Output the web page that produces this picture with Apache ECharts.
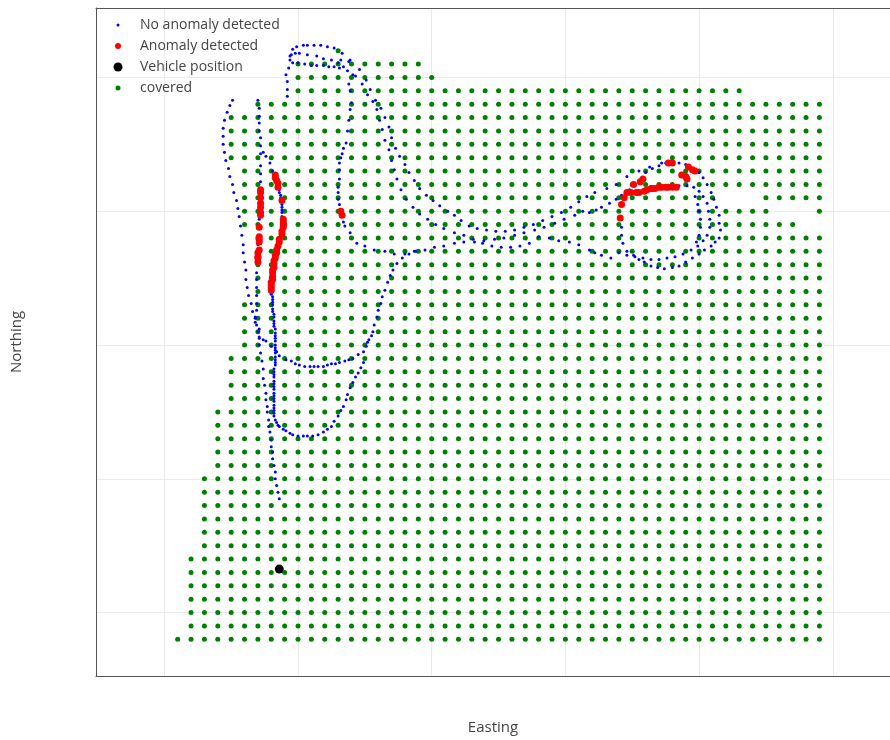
<!DOCTYPE html>
<html><head><meta charset="utf-8">
<script src="https://cdn.jsdelivr.net/npm/echarts@6/dist/echarts.min.js"></script>
<style>html,body{margin:0;padding:0;background:#fff}#c{width:890px;height:740px}</style>
</head><body><div id="c"></div>
<script>
// Covered grid cells: [northing row, first easting, last easting]
const covRows = [
  [42,13,13],[41,10,19],[40,10,20],[39,10,43],[38,7,49],
  [37,5,49],[36,5,49],[35,5,49],[34,5,49],
  [33,6,49],[32,6,49],[31,6,49],[30,6,45],[30,49,49],[29,6,47],
  [28,7,49],[27,7,49],[26,7,49],[25,7,49],[24,7,49],
  [23,6,49],[22,6,49],[21,6,49],[20,6,49],
  [19,5,49],[18,5,49],[17,5,49],[16,5,49],
  [15,4,49],[14,4,49],[13,4,49],[12,4,49],[11,4,49],
  [10,3,49],[9,3,49],[8,3,49],[7,3,49],[6,3,49],[5,3,49],
  [4,2,49],[3,2,49],[2,2,49],[1,2,49],[0,2,49],[-1,2,49],
  [-2,1,49]
];
const covMissing = [[31,42],[31,43],[31,44]];

// No anomaly detected — trajectory strands
const blueA1 = [[5.1,38.3],[4.9,37.9],[4.7,37.4],[4.5,36.8],[4.4,36.2],[4.4,35.6],[4.4,35.0],[4.5,34.4],[4.6,33.8],[4.8,33.2],[4.9,32.6],[5.1,32.0],[5.2,31.4],[5.4,30.8],[5.5,30.2],[5.6,29.6],[5.7,28.9],[5.8,28.2],[5.9,27.5],[5.9,26.9],[6.0,26.2],[6.1,25.6],[6.1,24.9],[6.2,24.3],[6.3,23.7],[6.5,23.1],[6.6,22.5],[6.8,22.0],[6.9,21.5],[7.0,21.0],[7.1,20.5],[7.1,20.0],[7.2,19.4],[7.3,18.8],[7.4,18.2],[7.4,17.5],[7.5,17.0],[7.6,16.4],[7.6,15.9],[7.7,15.4],[7.7,15.0],[7.8,14.4],[7.8,13.9],[7.9,13.5],[8.0,12.9],[8.0,12.4],[8.1,12.0],[8.1,11.5],[8.2,11.0],[8.3,10.5],[8.3,10.0],[8.4,9.5],[8.5,9.0],[8.6,8.5]];
const blueA2 = [[7.0,38.3],[7.1,37.7],[7.1,37.1],[7.1,36.6],[7.1,36.0],[7.2,35.5],[7.2,34.9],[7.2,34.3],[7.2,33.4],[7.2,32.8],[7.2,32.2],[7.2,31.2],[7.1,29.4],[7.0,27.5],[6.9,25.4],[6.9,24.9],[6.9,24.3],[6.9,23.7],[6.9,23.1],[6.9,22.6],[6.8,22.1],[6.8,21.7],[7.1,21.2],[7.1,20.6],[7.4,20.4],[7.6,20.3],[8.0,19.9],[8.4,19.5],[8.6,19.2],[9.1,18.9],[9.5,18.8],[9.8,18.6],[10.1,18.5],[10.5,18.4],[10.9,18.4],[11.2,18.4],[11.5,18.4],[11.9,18.4],[12.2,18.5],[12.5,18.6],[12.8,18.6],[13.1,18.7],[13.5,18.8],[13.8,18.9],[14.1,19.0],[14.5,19.3],[14.9,19.5],[15.1,19.9],[15.2,20.2],[15.3,20.4],[15.5,20.7],[15.6,21.0],[15.7,21.5],[15.9,22.1],[16.0,22.6],[16.2,23.1],[16.3,23.6],[16.5,24.1],[16.7,24.7],[16.9,25.2],[17.1,25.6],[17.4,26.1],[17.8,26.5],[18.3,26.8],[18.8,27.0]];
const blueB = [[7.4,34.4],[7.6,34.1],[7.9,33.6],[8.1,33.0],[8.2,32.7],[8.3,32.5],[8.4,32.3],[8.4,32.1],[8.5,31.8],[8.6,31.6],[8.6,31.4],[8.7,31.2],[8.7,31.0],[8.7,30.8],[8.8,30.5],[8.8,30.3],[8.8,30.1],[8.8,29.9],[8.8,29.6],[8.8,29.4],[8.9,29.2],[8.8,28.9],[8.8,28.7],[8.8,28.5],[8.7,28.3],[8.7,28.1],[8.6,27.8],[8.5,27.6],[8.5,27.4],[8.4,27.2],[8.4,27.0],[8.3,26.8],[8.3,26.6],[8.2,26.3],[8.2,26.1],[8.2,25.9],[8.1,25.7],[8.1,25.5],[8.1,25.3],[8.0,25.1],[8.0,24.9],[8.0,24.7],[8.0,24.4],[8.0,24.2],[8.0,24.0],[8.0,23.8],[8.1,23.6],[8.1,23.4],
  [8.1,23.2],[8.1,23.0],[8.1,22.7],[8.1,22.5],[8.2,22.3],[8.2,22.1],[8.2,21.8],[8.2,21.6],[8.2,21.4],[8.3,21.2],[8.3,20.9],[8.3,20.7],[8.3,20.5],[8.3,20.3],[8.3,20.0],[8.3,19.8],[8.3,19.6],[8.3,19.4],[8.3,19.1],[8.3,18.9],[8.3,18.7],[8.3,18.5],[8.2,18.2],[8.2,18.0],[8.2,17.8],[8.2,17.6],[8.2,17.3],[8.2,17.1],[8.2,16.9],[8.2,16.7],[8.2,16.4],[8.2,16.2],[8.2,16.0],[8.2,15.8],[8.2,15.5],[8.2,15.3],[8.2,15.1],[8.2,14.9],
  [8.2,14.7],[8.3,14.4],[8.4,14.2],[8.5,14.0],[8.6,13.9],[8.9,13.7],[9.1,13.6],[9.4,13.4],[9.6,13.3],[10.0,13.2],[10.4,13.2],[10.7,13.2],[11.1,13.2],[11.5,13.3],[11.9,13.5],[12.2,13.7],[12.5,13.9],[12.7,14.3],[13.0,14.7],[13.2,15.1],[13.4,15.4],[13.6,15.9],[13.7,16.3],[13.9,16.8],[14.1,17.2],[14.3,17.6],[14.5,17.9],[14.7,18.3],[14.9,18.7]];
const blueD = [[13.2,41.3],[13.8,41.2],[13.7,40.5],[14.1,40.2],[13.8,39.5],[13.9,39.0],[14.0,38.1],[13.9,37.6],[13.8,36.8],[13.7,36.0],[13.6,35.1],[13.4,34.7],[13.3,34.3],[13.2,34.0],[13.1,33.6],[13.1,33.1],[13.1,32.4],[13.0,31.8],[13.0,31.4],[13.0,30.9],[13.1,30.5],[13.4,29.2],[13.5,28.9],[13.9,28.4],[14.4,27.6],[15.0,27.4],[15.7,27.1],[16.5,27.0],[17.2,26.8],[18.0,26.8],[18.7,27.0],[19.5,27.1],[20.2,27.3],[20.9,27.4],[21.7,27.6],[22.4,27.7],[23.2,27.7],[23.9,27.8],[24.7,27.9],[25.4,28.0],[26.2,28.2],[26.9,28.4],[27.7,28.6],[28.4,28.8],[29.2,29.1],[29.9,29.4],[30.7,29.7],[31.3,30.0]];
const blueC1 = [[14.6,40.6],[15.1,39.8],[15.4,39.1],[15.8,38.3],[16.2,37.7],[16.5,37.0],[16.8,36.3],[17.0,35.5],[17.3,34.7],[17.6,34.1],[18.0,33.5],[18.3,32.9],[18.7,32.3],[19.1,31.7],[19.6,31.2],[20.1,30.8],[20.6,30.4],[21.2,30.0],[21.7,29.7],[22.2,29.3],[22.8,28.9],[23.4,28.7],[24.1,28.6],[24.8,28.5],[25.5,28.5],[26.2,28.6],[26.9,28.8],[27.6,29.0],[28.3,29.3],[29.0,29.6],[29.7,29.9],[30.4,30.3],[31.0,30.7],[31.6,31.1],[32.2,31.4],[33.1,31.7],[33.8,32.0],[34.6,32.6],[35.5,33.0],[36.3,33.3],[37.2,33.6]];
const blueC2 = [[14.8,39.5],[15.2,38.7],[15.6,38.2],[15.9,37.6],[16.1,36.8],[16.3,36.1],[16.5,35.3],[16.8,34.6],[17.0,33.8],[17.2,33.1],[17.4,32.4],[17.7,31.6],[18.1,30.9],[18.6,30.3],[19.1,29.8],[19.7,29.4],[20.3,29.0],[20.9,28.7],[21.7,28.4],[22.4,28.2],[23.1,27.9],[23.8,27.6],[24.5,27.4],[25.2,27.3],[25.9,27.3],[26.6,27.4],[27.3,27.6]];
const blueT1 = [[9.2,38.6],[9.2,39.1],[9.2,39.7],[9.1,40.2],[9.3,40.7],[9.4,41.3],[9.5,41.7],[9.6,42.1],[9.9,42.3],[10.4,42.4],[10.7,42.4],[11.2,42.4],[11.7,42.4],[12.2,42.3],[12.7,42.2],[13.3,41.8],[13.9,41.3]];
const blueT2 = [[9.4,41.6],[9.8,41.8],[10.1,41.8],[10.7,41.7],[11.4,41.6],[11.9,41.4],[12.5,41.3],[13.0,41.1],[13.4,40.8],[14.3,40.1]];
const blueT3 = [[9.6,41.1],[10.0,41.1],[10.5,41.0],[11.0,40.9],[11.4,40.9],[11.9,40.9],[12.3,40.8],[12.7,40.8],[13.1,40.7]];
const blueR1 = [[31.8,29.9],[32.3,30.1],[32.7,30.3],[33.3,30.6],[33.8,30.9],[34.2,31.2],[34.8,31.6],[35.1,32.0],[35.5,32.2],[36.0,32.9],[36.5,33.2],[37.0,33.4],[37.5,33.6],[38.0,33.7],[38.5,33.6],[39.0,33.5],[39.5,33.2],[40.0,32.9],[40.3,32.5],[40.6,32.0],[40.9,31.4],[41.1,30.9],[41.3,30.3],[41.5,29.7],[41.5,29.1],[41.6,28.6],[41.5,28.0],[41.2,27.7],[40.9,27.4],[40.4,27.1],[40.0,26.8],[39.5,26.5],[39.0,26.2],[38.5,25.9],[38.0,25.8],[37.4,25.7],[36.9,25.8],[36.4,25.9],[35.9,26.2],[35.5,26.4],[35.1,26.7],[34.6,27.0],[34.3,27.6],[34.2,28.2],[34.2,28.8],[34.2,29.4]];
const blueR2 = [[38.5,31.9],[39.1,31.9],[39.6,31.8],[40.0,31.5],[40.3,31.1],[40.6,30.6],[40.7,30.0],[40.8,29.4],[40.8,28.8],[40.6,28.2],[40.3,27.8],[39.9,27.4],[39.4,27.1],[38.8,26.8],[38.2,26.6],[37.6,26.5],[37.0,26.4],[36.4,26.4],[35.8,26.5],[35.2,26.6],[34.6,26.7],[34.0,26.9]];
const blueR3 = [[39.7,31.1],[39.9,30.5],[40.0,30.0],[40.1,29.4],[40.1,28.8],[40.0,28.2],[39.8,27.7]];
const blueM3 = [[33.4,26.5],[32.7,26.7],[32.2,26.9],[31.8,27.1],[31.0,27.5],[30.3,27.7],[29.5,27.8],[28.8,28.0],[28.0,28.1]];

// Anomaly detected
const redLeft = [[7.2,31.6],[7.2,31.4],[7.2,31.0],[7.2,30.6],[7.2,30.3],[7.2,29.9],[7.2,29.7],[7.1,28.8],[7.1,28.1],[7.1,27.9],[7.1,27.7],[7.1,27.1],[7.0,26.9],[7.0,26.6],[7.0,26.5],[7.0,26.2]];
const redTrack = [[8.3,32.7],[8.3,32.5],[8.4,32.3],[8.5,32.1],[8.5,31.8],[8.8,30.8],[8.9,29.4],[8.9,29.2],[8.9,29.0],[8.9,28.8],[8.8,28.5],[8.8,28.3],[8.6,27.9],[8.6,27.7],[8.5,27.4],[8.4,27.1],[8.4,26.9],[8.3,26.7],[8.3,26.5],[8.2,26.3],[8.2,26.1],[8.2,25.8],[8.1,25.6],[8.1,25.4],[8.1,25.1],[8.1,24.9],[8.0,24.7],[8.0,24.5],[8.0,24.3],[8.0,24.1]];
const redMid = [[13.2,30.0],[13.3,29.7]];
const redRight = [[34.1,29.5],[34.2,30.5],[34.4,31.0],[34.6,31.4],[34.9,31.4],[35.1,32.0],[35.3,31.4],[35.5,31.4],[35.6,32.2],[35.8,32.4],[35.9,31.5],[36.1,31.6],[36.4,31.7],[36.5,31.7],[36.7,31.7],[37.0,31.8],[37.2,31.8],[37.5,31.8],[37.7,31.8],[38.0,31.8],[38.3,31.8],[37.7,33.6],[38.0,33.6],[38.7,32.7],[39.0,32.6],[39.1,32.4],[39.2,33.3],[39.5,33.1],[39.7,33.0]];

// Vehicle position
const vehicle = [[8.6,3.25]];

const names = ['No anomaly detected','Anomaly detected','Vehicle position','covered'];

const covered = [];
covRows.forEach(([n,a,b]) => {
  for (let e = a; e <= b; e++) {
    if (!covMissing.some(m => m[0] === n && m[1] === e)) covered.push([e, n]);
  }
});
const blue = [].concat(blueA1, blueA2, blueB, blueD, blueC1, blueC2, blueT1, blueT2, blueT3, blueR1, blueR2, blueR3, blueM3);
const red = [].concat(redLeft, redTrack, redMid, redRight);

const font = "'Open Sans', sans-serif";
function legendFor(name, yc, w) {
  return {
    data: [name], orient: 'vertical', left: 118 - w / 2, top: yc - 6, padding: 0,
    itemWidth: w, itemHeight: w, icon: 'circle', selectedMode: false,
    textStyle: { color: '#444', fontSize: 14, fontFamily: font, padding: [0, 0, 0, 17 - w / 2] }
  };
}

const X_MIN = -5.11, X_MAX = 54.28;
const borderLine = { show: true, onZero: false, lineStyle: { color: '#555', width: 1 } };

const chart = echarts.init(document.getElementById('c'), null, { renderer: 'canvas' });
chart.setOption({
  animation: false,
  backgroundColor: '#fff',
  grid: { left: 96, top: 8, right: 0, bottom: 63, show: false },
  legend: [legendFor(names[0], 24, 3), legendFor(names[1], 45, 6), legendFor(names[2], 66, 9), legendFor(names[3], 87, 5)],
  xAxis: [{
    type: 'value', min: X_MIN, max: X_MAX,
    name: 'Easting', nameLocation: 'middle', nameGap: 44,
    nameTextStyle: { color: '#444', fontSize: 15, fontFamily: font },
    axisLine: borderLine, axisTick: { show: false }, axisLabel: { show: false },
    splitLine: { show: true, lineStyle: { color: '#ebebeb', width: 1 } }
  }, {
    type: 'value', position: 'top', min: X_MIN, max: X_MAX,
    axisLine: borderLine, axisTick: { show: false }, axisLabel: { show: false },
    splitLine: { show: false }
  }],
  yAxis: {
    type: 'value', min: -4.74, max: 45.19,
    name: 'Northing', nameLocation: 'middle', nameGap: 72,
    nameTextStyle: { color: '#444', fontSize: 15, fontFamily: font },
    axisLine: borderLine, axisTick: { show: false }, axisLabel: { show: false },
    splitLine: { show: true, lineStyle: { color: '#ebebeb', width: 1 } }
  },
  series: [
    { name: names[3], type: 'scatter', data: covered, symbol: 'circle', symbolSize: 5, itemStyle: { color: '#008000', opacity: 1 }, z: 1, silent: true },
    { name: names[0], type: 'scatter', data: blue, symbol: 'circle', symbolSize: 3, itemStyle: { color: '#0000ff', opacity: 1 }, z: 2, silent: true },
    { name: names[1], type: 'scatter', data: red, symbol: 'circle', symbolSize: 7, itemStyle: { color: '#ff0000', opacity: 1 }, z: 3, silent: true },
    { name: names[2], type: 'scatter', data: vehicle, symbol: 'circle', symbolSize: 9, itemStyle: { color: '#000000', opacity: 1 }, z: 4, silent: true }
  ]
});
</script></body></html>
